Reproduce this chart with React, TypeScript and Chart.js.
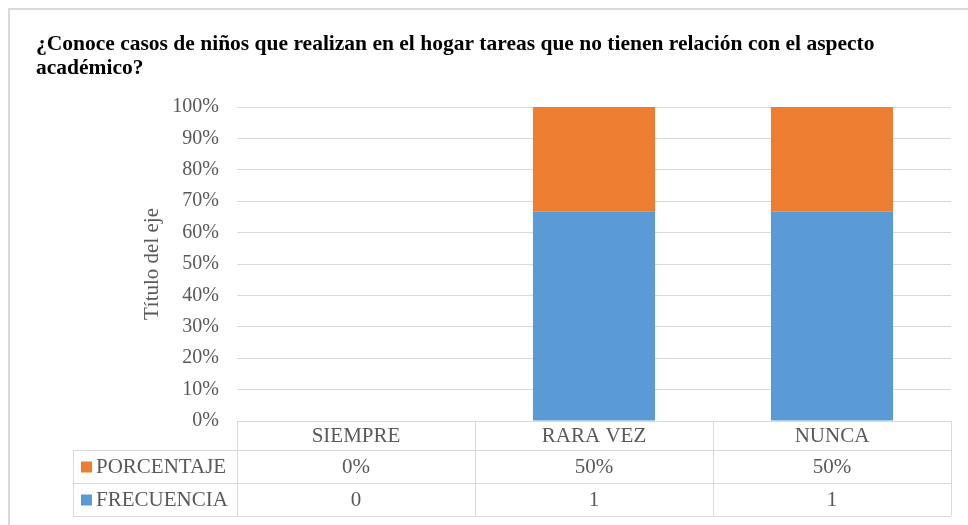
import React, { useEffect, useRef } from "react";
import { Chart, registerables } from "chart.js";

Chart.register(...registerables);

const TITLE_LINES = [
  "¿Conoce casos de niños que realizan en el hogar tareas que no tienen relación con el aspecto",
  "académico?",
];
const CATEGORIES = ["SIEMPRE", "RARA VEZ", "NUNCA"];
const FRECUENCIA = [0, 1, 1];
const PORCENTAJE = [0, 0.5, 0.5];
const FRECUENCIA_LABELS = ["0", "1", "1"];
const PORCENTAJE_LABELS = ["0%", "50%", "50%"];
const SERIES_NAMES = ["FRECUENCIA", "PORCENTAJE"];
const SERIES_COLORS = ["#5B9BD5", "#ED7D31"];
const Y_AXIS_TITLE = "Título del eje";
const Y_MAX = 100;
const Y_STEP = 10;

const TEXT_COLOR = "#595959";
const LINE_COLOR = "#D9D9D9";
const FONT = "'Liberation Serif', 'Times New Roman', serif";

const totals = CATEGORIES.map((_, i) => FRECUENCIA[i] + PORCENTAJE[i]);
const share = (arr: number[]) =>
  arr.map((v, i) => (totals[i] ? (v / totals[i]) * 100 : 0));

const overlayPlugin = {
  id: "overlay",
  beforeDraw(chart: any) {
    const { ctx } = chart;
    ctx.save();
    ctx.fillStyle = "#ffffff";
    ctx.fillRect(0, 0, chart.width, chart.height);
    ctx.strokeStyle = LINE_COLOR;
    ctx.lineWidth = 2;
    ctx.beginPath();
    ctx.moveTo(9, chart.height);
    ctx.lineTo(9, 9);
    ctx.lineTo(chart.width, 9);
    ctx.stroke();
    ctx.restore();
  },
  afterDraw(chart: any) {
    const { ctx, chartArea } = chart;
    const xScale = chart.scales.x;
    const n = CATEGORIES.length;
    const catW = (chartArea.right - chartArea.left) / n;
    const top = chartArea.bottom;
    const headerH = 29;
    const rowH = 33;
    const tableLeft = 73;
    const r1 = top + headerH;
    const r2 = r1 + rowH;
    const r3 = r2 + rowH;

    ctx.save();
    // title
    ctx.fillStyle = "#000000";
    ctx.font = `bold 21.5px ${FONT}`;
    ctx.textAlign = "left";
    ctx.textBaseline = "alphabetic";
    ctx.fillText(TITLE_LINES[0], 36, 50);
    ctx.fillText(TITLE_LINES[1], 36, 74);

    // y axis title
    ctx.fillStyle = TEXT_COLOR;
    ctx.font = `21px ${FONT}`;
    ctx.save();
    ctx.translate(152, (chartArea.top + chartArea.bottom) / 2);
    ctx.rotate(-Math.PI / 2);
    ctx.textAlign = "center";
    ctx.textBaseline = "middle";
    ctx.fillText(Y_AXIS_TITLE, 0, 0);
    ctx.restore();

    // table lines
    ctx.strokeStyle = LINE_COLOR;
    ctx.lineWidth = 1;
    ctx.beginPath();
    const hl = (x1: number, x2: number, y: number) => {
      ctx.moveTo(x1, Math.round(y) + 0.5);
      ctx.lineTo(x2, Math.round(y) + 0.5);
    };
    const vl = (x: number, y1: number, y2: number) => {
      ctx.moveTo(Math.round(x) + 0.5, y1);
      ctx.lineTo(Math.round(x) + 0.5, y2);
    };
    hl(chartArea.left, chartArea.right, top);
    hl(tableLeft, chartArea.right, r1);
    hl(tableLeft, chartArea.right, r2);
    hl(tableLeft, chartArea.right, r3);
    vl(tableLeft, r1, r3);
    for (let i = 0; i <= n; i++) {
      vl(chartArea.left + i * catW, top, r3);
    }
    ctx.stroke();

    // texts
    ctx.fillStyle = TEXT_COLOR;
    ctx.font = `21px ${FONT}`;
    ctx.textAlign = "center";
    ctx.textBaseline = "middle";
    CATEGORIES.forEach((c, i) => {
      const cx = xScale.getPixelForValue(i);
      ctx.fillText(c, cx, (top + r1) / 2 + 1);
      ctx.fillText(PORCENTAJE_LABELS[i], cx, (r1 + r2) / 2 + 1);
      ctx.fillText(FRECUENCIA_LABELS[i], cx, (r2 + r3) / 2 + 1);
    });

    // row labels with legend keys
    const rows = [
      { name: SERIES_NAMES[1], color: SERIES_COLORS[1], y: (r1 + r2) / 2 },
      { name: SERIES_NAMES[0], color: SERIES_COLORS[0], y: (r2 + r3) / 2 },
    ];
    rows.forEach((r) => {
      ctx.fillStyle = r.color;
      ctx.fillRect(81, r.y - 5, 11, 11);
      ctx.fillStyle = TEXT_COLOR;
      ctx.textAlign = "left";
      ctx.fillText(r.name, 96, r.y + 1);
    });
    ctx.restore();
  },
};

export default function App() {
  const ref = useRef<HTMLCanvasElement | null>(null);

  useEffect(() => {
    if (!ref.current) return;
    const chart = new Chart(ref.current, {
      type: "bar",
      data: {
        labels: CATEGORIES,
        datasets: [
          {
            label: SERIES_NAMES[0],
            data: share(FRECUENCIA),
            backgroundColor: SERIES_COLORS[0],
          },
          {
            label: SERIES_NAMES[1],
            data: share(PORCENTAJE),
            backgroundColor: SERIES_COLORS[1],
          },
        ],
      },
      options: {
        animation: false,
        responsive: false,
        maintainAspectRatio: false,
        events: [],
        layout: { padding: { left: 0, right: 17, top: 107, bottom: 104 } },
        datasets: {
          bar: { barPercentage: 0.513, categoryPercentage: 1 },
        },
        plugins: {
          legend: { display: false },
          title: { display: false },
          tooltip: { enabled: false },
        },
        scales: {
          x: {
            stacked: true,
            display: false,
          },
          y: {
            stacked: true,
            min: 0,
            max: Y_MAX,
            afterFit: (scale: any) => {
              scale.width = 237;
            },
            border: { display: false },
            grid: { color: LINE_COLOR, lineWidth: 1, drawTicks: false },
            ticks: {
              stepSize: Y_STEP,
              padding: 18,
              color: TEXT_COLOR,
              font: { family: FONT, size: 20 },
              callback: (v: any) => `${v}%`,
            },
          },
        },
      },
      plugins: [overlayPlugin],
    });
    return () => chart.destroy();
  }, []);

  return (
    <div
      style={{
        position: "fixed",
        left: 0,
        top: 0,
        width: 968,
        height: 525,
        background: "#fff",
      }}
    >
      <canvas ref={ref} width={968} height={525} style={{ width: 968, height: 525, display: "block" }} />
    </div>
  );
}
